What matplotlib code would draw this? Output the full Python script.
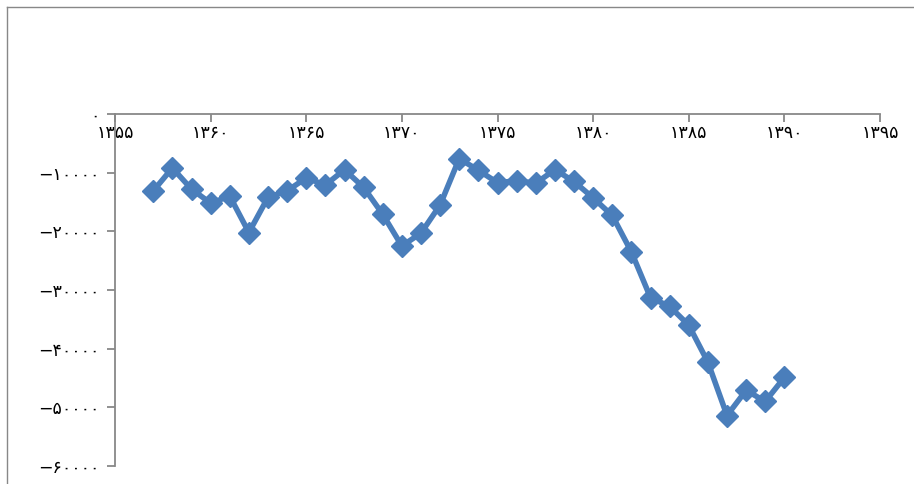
import matplotlib.pyplot as plt
from matplotlib.lines import Line2D

# سال‌ها و مقادیر (خوانده شده از تصویر)
years = list(range(1357, 1391))
values = [-13100, -9200, -12800, -15200, -14000, -20200, -14200, -13100,
          -10900, -12100, -9500, -12500, -17100, -22500, -20300, -15500,
          -7600, -9600, -11700, -11400, -11800, -9500, -11500, -14300,
          -17300, -23500, -31300, -32800, -36000, -42300, -51400, -47100,
          -49000, -44900]

x_ticks = [1355, 1360, 1365, 1370, 1375, 1380, 1385, 1390, 1395]
y_ticks = [0, -10000, -20000, -30000, -40000, -50000, -60000]

fa_digits = str.maketrans("0123456789", "۰۱۲۳۴۵۶۷۸۹")


def to_fa(v):
    return str(v).translate(fa_digits)


fig = plt.figure(figsize=(9.14, 4.84), dpi=100)
ax = fig.add_axes([115 / 914, 1 - 466 / 484, (880 - 115) / 914, (466 - 114) / 484])

ax.plot(years, values, color="#4A7EBB", lw=4, marker="D", ms=11,
        markeredgecolor="#4A7EBB", solid_joinstyle="round", clip_on=False)

ax.set_xlim(1355, 1395)
ax.set_ylim(-60000, 0)
ax.set_xticks(x_ticks)
ax.set_xticklabels([to_fa(t) for t in x_ticks])
ax.set_yticks(y_ticks)
ax.set_yticklabels([to_fa(t).replace("-", "−") if t != 0 else "۰" for t in y_ticks])

gray = "#888888"
ax.spines["top"].set_visible(False)
ax.spines["right"].set_visible(False)
ax.spines["bottom"].set_position(("data", 0))
for s in ["bottom", "left"]:
    ax.spines[s].set_color(gray)
    ax.spines[s].set_linewidth(1.3)
ax.tick_params(axis="both", colors=gray, length=6, width=1.3, labelcolor="black",
               labelsize=12.5)
ax.tick_params(axis="x", direction="out", pad=1)
ax.tick_params(axis="y", direction="out", pad=5)

# قاب بیرونی
fig.add_artist(Line2D([7 / 914, 7 / 914], [0, 1 - 7 / 484], color=gray, lw=1))
fig.add_artist(Line2D([7 / 914, 1], [1 - 7 / 484, 1 - 7 / 484], color=gray, lw=1))

fig.savefig("out.png", dpi=100)
